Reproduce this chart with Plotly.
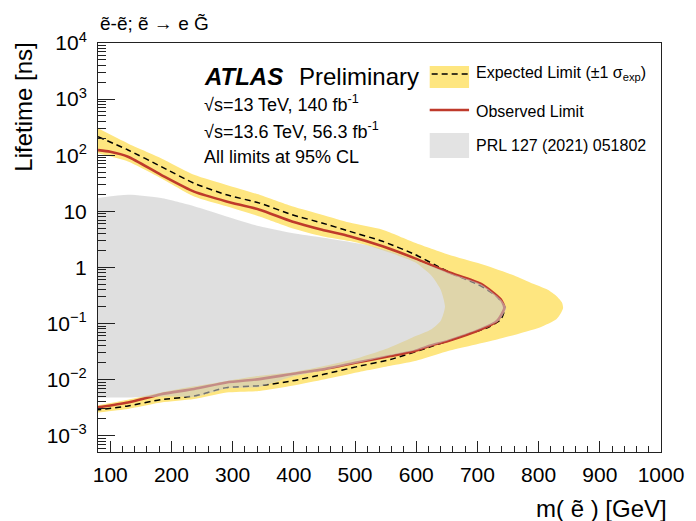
import plotly.graph_objects as go

# ---------------- data ----------------
# Expected limit +1 sigma (outer) contour
band_outer_mass = [80, 129, 183, 237, 290, 344, 397, 446, 491, 545, 598, 652, 706, 760, 786, 815, 829, 838, 840,
                   836, 829, 802, 732, 652, 598, 558, 505, 451, 397, 344, 290, 237, 183, 129, 80]
band_outer_tau = [302, 162, 88.5, 44.7, 29.5, 19.7, 12.3, 8.7, 6.3, 4.7, 2.75, 1.70, 1.15, 0.72, 0.54, 0.40, 0.31, 0.24, 0.19,
                  0.151, 0.119, 0.085, 0.052, 0.0324, 0.0214, 0.0176, 0.0135, 0.0102, 0.0078, 0.0063, 0.0059, 0.0045,
                  0.0039, 0.0030, 0.0026]
# Expected limit -1 sigma (inner) contour
band_inner_mass = [80, 129, 183, 237, 290, 344, 397, 446, 491, 518, 560, 598, 625, 640, 647,
                   640, 625, 593, 550, 504, 451, 397, 344, 290, 237, 183, 129, 80]
band_inner_tau = [108, 77, 38.9, 18.4, 12.3, 8.1, 5.0, 3.6, 2.95, 2.51, 1.78, 1.23, 0.71, 0.40, 0.20,
                  0.112, 0.079, 0.056, 0.035, 0.024, 0.0176, 0.0135, 0.0117, 0.0095, 0.0076, 0.0059, 0.0044, 0.0035]
# Expected limit (median)
exp_mass = [80, 129, 183, 237, 290, 344, 397, 446, 491, 545, 598, 630, 660, 700, 730, 742, 745,
            738, 715, 690, 652, 622, 558, 505, 451, 397, 344, 290, 237, 183, 129, 80]
exp_tau = [214, 124, 63, 31.6, 19.7, 14.0, 8.7, 6.2, 4.4, 2.92, 1.70, 1.12, 0.76, 0.50, 0.316, 0.224, 0.19,
           0.117, 0.083, 0.068, 0.049, 0.038, 0.0229, 0.0172, 0.0126, 0.0095, 0.0078, 0.0072, 0.0051, 0.0044,
           0.0034, 0.0029]
# Observed limit
obs_mass = [80, 100, 129, 183, 237, 290, 344, 397, 446, 491, 545, 598, 652, 706, 738, 744,
            732, 706, 652, 622, 598, 558, 505, 451, 397, 344, 290, 237, 183, 129, 80]
obs_tau = [123, 115, 94, 44.7, 22.4, 15.0, 10.7, 6.6, 4.7, 3.6, 2.38, 1.45, 0.83, 0.51, 0.27, 0.19,
           0.111, 0.079, 0.049, 0.040, 0.0324, 0.0263, 0.0204, 0.0155, 0.0126, 0.0102, 0.0089, 0.0068, 0.0055,
           0.0039, 0.0032]
# PRL 127 (2021) 051802 excluded region
prl_mass = [80, 129, 183, 237, 290, 344, 397, 446, 518, 560, 598, 652, 706, 738, 747,
            735, 706, 652, 598, 558, 505, 451, 397, 344, 290, 237, 200, 130, 80]
prl_tau = [17.2, 19.7, 17.2, 12.3, 8.1, 5.4, 4.1, 3.4, 2.51, 1.91, 1.35, 0.81, 0.50, 0.27, 0.19,
           0.112, 0.081, 0.050, 0.033, 0.027, 0.020, 0.0148, 0.0112, 0.0074, 0.0069, 0.0049, 0.0050, 0.0048, 0.0048]

x_tickvals = [100, 200, 300, 400, 500, 600, 700, 800, 900, 1000]
y_tickvals = [1e-3, 1e-2, 1e-1, 1, 10, 100, 1e3, 1e4]
y_ticktext = ["10<sup>\u22123</sup>", "10<sup>\u22122</sup>", "10<sup>\u22121</sup>", "1", "10",
              "10<sup>2</sup>", "10<sup>3</sup>", "10<sup>4</sup>"]
y_minor = [k * 10.0 ** n for n in range(-4, 4) for k in range(2, 10)]
x_minor = [m for m in range(80, 1001, 20) if m % 100 != 0]

# ---------------- styling ----------------
FONT = "Liberation Sans, Arial, Helvetica, sans-serif"
YELLOW = "#fee680"
RED = "#bf3a2b"
GRAY = "rgba(200,200,200,0.58)"
AXC = "#222"

fig = go.Figure()
fig.add_trace(go.Scatter(x=band_outer_mass, y=band_outer_tau, mode="lines", fill="toself",
                         fillcolor=YELLOW, line=dict(width=0, color=YELLOW, shape="spline", smoothing=0.6),
                         hoverinfo="skip", showlegend=False))
fig.add_trace(go.Scatter(x=band_inner_mass, y=band_inner_tau, mode="lines", fill="toself",
                         fillcolor="white", line=dict(width=0, color="white", shape="spline", smoothing=0.6),
                         hoverinfo="skip", showlegend=False))
fig.add_trace(go.Scatter(x=exp_mass, y=exp_tau, mode="lines",
                         line=dict(width=1.5, color="black", dash="6px,4px", shape="spline", smoothing=0.6),
                         hoverinfo="skip", showlegend=False))
fig.add_trace(go.Scatter(x=obs_mass, y=obs_tau, mode="lines",
                         line=dict(width=2.6, color=RED, shape="spline", smoothing=0.6),
                         hoverinfo="skip", showlegend=False))
fig.add_trace(go.Scatter(x=prl_mass, y=prl_tau, mode="lines", fill="toself",
                         fillcolor=GRAY, line=dict(width=0, color=GRAY, shape="spline", smoothing=0.6),
                         hoverinfo="skip", showlegend=False))

axis_common = dict(showline=True, linecolor=AXC, linewidth=1, mirror=True, showgrid=False,
                   zeroline=False, ticks="inside", tickcolor=AXC, tickwidth=1,
                   tickfont=dict(family=FONT, size=21, color="black"))

fig.update_xaxes(range=[80, 1000], tickmode="array", tickvals=x_tickvals, ticklen=11,
                 minor=dict(tickmode="array", tickvals=x_minor, ticks="inside", ticklen=6,
                            tickcolor=AXC, tickwidth=1, showgrid=False),
                 ticklabelstandoff=4, **axis_common)
fig.update_yaxes(type="log", range=[-3.29, 4], tickmode="array", tickvals=y_tickvals,
                 ticktext=y_ticktext, ticklen=17,
                 minor=dict(tickmode="array", tickvals=y_minor, ticks="inside", ticklen=8,
                            tickcolor=AXC, tickwidth=1, showgrid=False),
                 ticklabelstandoff=6, **axis_common)

def px2paper_x(px):
    return (px - 98) / 572.0

def px2paper_y(py):
    return (452 - py) / 409.0

ann = []
ann.append(dict(text="Lifetime [ns]", x=px2paper_x(22), y=px2paper_y(41), xref="paper", yref="paper",
                xanchor="center", yanchor="top", textangle=-90, showarrow=False,
                font=dict(family=FONT, size=24, color="black")))
ann.append(dict(text="m( \u1ebd ) [GeV]", x=px2paper_x(678), y=px2paper_y(508), xref="paper", yref="paper",
                xanchor="right", yanchor="middle", showarrow=False,
                font=dict(family=FONT, size=24, color="black")))
ann.append(dict(text="\u1ebd-\u1ebd; \u1ebd \u2192 e G\u0303", x=0.0, y=px2paper_y(23), xref="paper", yref="paper",
                xanchor="left", yanchor="middle", showarrow=False,
                font=dict(family=FONT, size=19, color="black")))
ann.append(dict(text="<b><i>ATLAS</i></b>", x=px2paper_x(204), y=px2paper_y(76), xref="paper", yref="paper",
                xanchor="left", yanchor="middle", showarrow=False,
                font=dict(family=FONT, size=24, color="black")))
ann.append(dict(text="Preliminary", x=px2paper_x(300), y=px2paper_y(76), xref="paper", yref="paper",
                xanchor="left", yanchor="middle", showarrow=False,
                font=dict(family=FONT, size=24, color="black")))
for txt, py in [("\u221as=13 TeV, 140 fb<sup>-1</sup>", 104),
                ("\u221as=13.6 TeV, 56.3 fb<sup>-1</sup>", 130),
                ("All limits at 95% CL", 157)]:
    ann.append(dict(text=txt, x=px2paper_x(204), y=px2paper_y(py), xref="paper", yref="paper",
                    xanchor="left", yanchor="middle", showarrow=False,
                    font=dict(family=FONT, size=18, color="black")))
for txt, py in [("Expected Limit (\u00b11 \u03c3<sub>exp</sub>)", 74),
                ("Observed Limit", 111),
                ("PRL 127 (2021) 051802", 145)]:
    ann.append(dict(text=txt, x=px2paper_x(480), y=px2paper_y(py), xref="paper", yref="paper",
                    xanchor="left", yanchor="middle", showarrow=False,
                    font=dict(family=FONT, size=16, color="black")))

shapes = [
    dict(type="rect", xref="paper", yref="paper", x0=px2paper_x(435), x1=px2paper_x(475),
         y0=px2paper_y(88), y1=px2paper_y(66), fillcolor=YELLOW, line=dict(width=0)),
    dict(type="line", xref="paper", yref="paper", x0=px2paper_x(437), x1=px2paper_x(474),
         y0=px2paper_y(74), y1=px2paper_y(74), line=dict(color="black", width=1.5, dash="6px,4px")),
    dict(type="line", xref="paper", yref="paper", x0=px2paper_x(435), x1=px2paper_x(475),
         y0=px2paper_y(110), y1=px2paper_y(110), line=dict(color=RED, width=2.6)),
    dict(type="rect", xref="paper", yref="paper", x0=px2paper_x(435), x1=px2paper_x(475),
         y0=px2paper_y(158), y1=px2paper_y(133), fillcolor="#e3e3e3", line=dict(width=0)),
]

fig.update_layout(width=696, height=521, margin=dict(l=98, r=26, t=43, b=69),
                  plot_bgcolor="white", paper_bgcolor="white", showlegend=False,
                  annotations=ann, shapes=shapes, font=dict(family=FONT, color="black"))

fig.write_html("out.html")
